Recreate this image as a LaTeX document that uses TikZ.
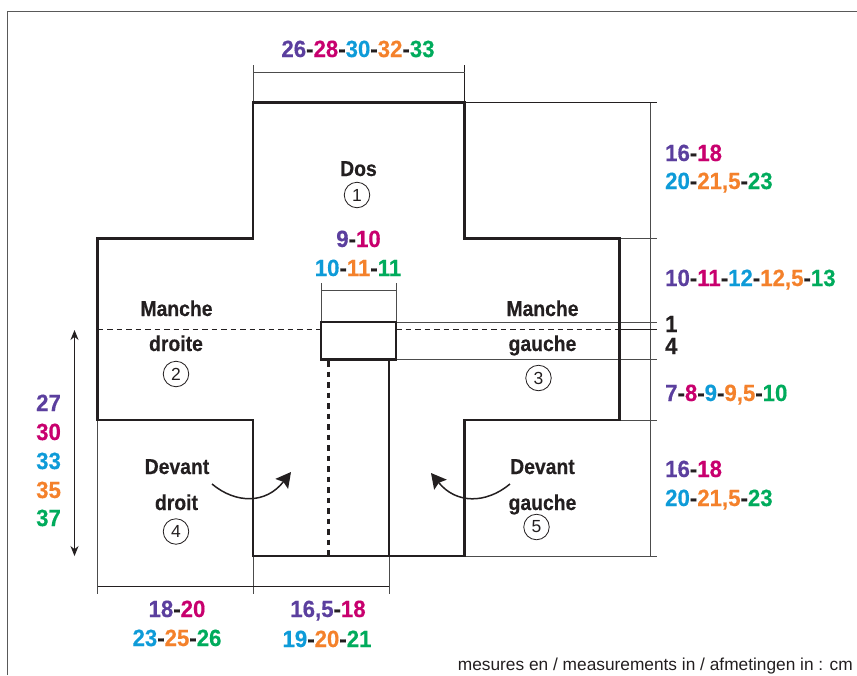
\documentclass[tikz,border=0pt]{standalone}
\usepackage{fontspec}
\setmainfont{Liberation Sans}
\newfontfamily\condbold[FakeStretch=0.945,FakeBold=0.4]{Liberation Sans Bold}
\newfontfamily\partbold[FakeStretch=0.9,FakeBold=0.4]{Liberation Sans Bold}
\usetikzlibrary{arrows.meta}
\definecolor{inkc}{HTML}{231F20}
\definecolor{purplec}{HTML}{5B3F9E}
\definecolor{magentac}{HTML}{C8006E}
\definecolor{bluec}{HTML}{0E9BD8}
\definecolor{orangec}{HTML}{F4812B}
\definecolor{greenc}{HTML}{00AB5C}
\newcommand{\cPu}[1]{\textcolor{purplec}{#1}}
\newcommand{\cMa}[1]{\textcolor{magentac}{#1}}
\newcommand{\cBl}[1]{\textcolor{bluec}{#1}}
\newcommand{\cOr}[1]{\textcolor{orangec}{#1}}
\newcommand{\cGr}[1]{\textcolor{greenc}{#1}}
\tikzset{
  x=1pt,y=-1pt,
  frameline/.style={draw=black!65,line width=1pt},
  outline/.style={draw=inkc,line width=2.7pt,line join=miter},
  thin line/.style={draw=inkc,line width=0.9pt},
  dimline/.style={draw=black!70,line width=0.9pt},
  sizelabel/.style={inner sep=0pt,font=\condbold\fontsize{23.5}{23.5}\selectfont,text=inkc},
  partlabel/.style={inner sep=0pt,font=\partbold\fontsize{21.5}{22}\selectfont,text=inkc},
  numcircle/.style={circle,draw=inkc,line width=0.8pt,minimum size=25.5pt,inner sep=0pt,font=\fontsize{17.5}{18}\selectfont,text=inkc},
  foldarrow/.style={draw=inkc,line width=1.5pt,-{Stealth[inset=2.5pt,length=15pt,width=16pt]}},
}
\begin{document}
\begin{tikzpicture}
\useasboundingbox (0,0) rectangle (857,675);
% frame
\draw[frameline] (7.5,675) -- (7.5,11.5) -- (857,11.5);
% dimension lines
\draw[dimline] (253,65) -- (253,102);
\draw[thin line] (464.5,65) -- (464.5,102);
\draw[dimline] (253,72) -- (464.5,72);
\draw[dimline] (321,283) -- (321,322) (396,283) -- (396,322);
\draw[dimline] (321,290.5) -- (396,290.5);
\draw[dimline] (650,102.5) -- (650,556);
\draw[thin line] (464.5,102.5) -- (657,102.5);
\draw[dimline] (464.5,238.5) -- (657,238.5);
\draw[dimline] (396,322) -- (657,322);
\draw[thin line] (619.5,329) -- (657,329);
\draw[dimline] (396,359.5) -- (657,359.5);
\draw[dimline] (619.5,420) -- (657,420);
\draw[dimline] (464.5,556) -- (657,556);
\draw[dimline] (97.5,420) -- (97.5,594);
\draw[dimline] (253,556) -- (253,594);
\draw[dimline] (389,556) -- (389,594);
\draw[thin line] (97.5,586.5) -- (389,586.5);
% dashed fold lines
\draw[inkc,line width=0.9pt,dash pattern=on 5.5pt off 4pt] (97.5,329) -- (321,329);
\draw[inkc,line width=0.9pt,dash pattern=on 5.5pt off 4pt] (396,329) -- (619.5,329);
\draw[inkc,line width=2.4pt,dash pattern=on 5.5pt off 5pt] (328.5,361) -- (328.5,556);
% outline
\draw[outline] (253,102.5) -- (464.5,102.5) -- (464.5,238.5) -- (619.5,238.5) -- (619.5,420) -- (464.5,420) -- (464.5,556) -- (253,556) -- (253,420) -- (97.5,420) -- (97.5,238.5) -- (253,238.5) -- cycle;
\draw[outline] (321,322) rectangle (396,359.5);
\draw[outline] (389,359.5) -- (389,556);
% length arrow
\coordinate (lenTop) at (74.5,330);
\coordinate (lenBot) at (74.5,556);
\draw[inkc,line width=0.9pt,{Stealth[length=10pt,width=8pt]}-{Stealth[length=10pt,width=8pt]}] (lenTop) -- (lenBot);
% curved arrows
\coordinate (foldLa) at (212,484);
\coordinate (foldLb) at (291,472);
\coordinate (foldRa) at (510,484);
\coordinate (foldRb) at (431,473);
\draw[foldarrow] (foldLa) .. controls (236,504) and (266,504) .. (foldLb);
\draw[foldarrow] (foldRa) .. controls (486,504) and (456,504) .. (foldRb);
% part labels
\node[partlabel,anchor=base] (dos) at (358.5,176) {Dos};
\node[partlabel,anchor=base] (mancheD) at (176.5,316) {Manche};
\node[partlabel,anchor=base] (droite) at (176,351) {droite};
\node[partlabel,anchor=base] (mancheG) at (542.5,316) {Manche};
\node[partlabel,anchor=base] (gaucheM) at (542.5,351) {gauche};
\node[partlabel,anchor=base] (devantD) at (177,474) {Devant};
\node[partlabel,anchor=base] (droit) at (176.5,510) {droit};
\node[partlabel,anchor=base] (devantG) at (542.5,474) {Devant};
\node[partlabel,anchor=base] (gaucheD) at (542.5,510) {gauche};
\node[numcircle] (c1) at (357,195) {1};
\node[numcircle] (c2) at (176,374) {2};
\node[numcircle] (c3) at (538.5,378) {3};
\node[numcircle] (c4) at (176,531.5) {4};
\node[numcircle] (c5) at (536.5,527) {5};
% size labels
\node[sizelabel,anchor=base] (sTop) at (358,57) {\cPu{26}-\cMa{28}-\cBl{30}-\cOr{32}-\cGr{33}};
\node[sizelabel,anchor=base] (sNeckA) at (358.5,247) {\cPu{9}-\cMa{10}};
\node[sizelabel,anchor=base] (sNeckB) at (358,276) {\cBl{10}-\cOr{11}-\cGr{11}};
\node[sizelabel,anchor=base west] (sRa) at (665,161) {\cPu{16}-\cMa{18}};
\node[sizelabel,anchor=base west] (sRb) at (665,189) {\cBl{20}-\cOr{21,5}-\cGr{23}};
\node[sizelabel,anchor=base west] (sRc) at (665,286) {\cPu{10}-\cMa{11}-\cBl{12}-\cOr{12,5}-\cGr{13}};
\node[sizelabel,anchor=base west] (sOne) at (665,332) {1};
\node[sizelabel,anchor=base west] (sFour) at (665,354) {4};
\node[sizelabel,anchor=base west] (sRd) at (665,401) {\cPu{7}-\cMa{8}-\cBl{9}-\cOr{9,5}-\cGr{10}};
\node[sizelabel,anchor=base west] (sRe) at (665,477) {\cPu{16}-\cMa{18}};
\node[sizelabel,anchor=base west] (sRf) at (665,506) {\cBl{20}-\cOr{21,5}-\cGr{23}};
\node[sizelabel,anchor=base west] (sLa) at (36,411) {\cPu{27}};
\node[sizelabel,anchor=base west] (sLb) at (36,440) {\cMa{30}};
\node[sizelabel,anchor=base west] (sLc) at (36,469) {\cBl{33}};
\node[sizelabel,anchor=base west] (sLd) at (36,498) {\cOr{35}};
\node[sizelabel,anchor=base west] (sLe) at (36,526) {\cGr{37}};
\node[sizelabel,anchor=base] (sBa) at (177,617) {\cPu{18}-\cMa{20}};
\node[sizelabel,anchor=base] (sBb) at (177,646) {\cBl{23}-\cOr{25}-\cGr{26}};
\node[sizelabel,anchor=base] (sBc) at (328,617) {\cPu{16,5}-\cMa{18}};
\node[sizelabel,anchor=base] (sBd) at (327,647) {\cBl{19}-\cOr{20}-\cGr{21}};
\node[inner sep=0pt,anchor=base east,text=inkc,font=\fontsize{17.3}{18}\selectfont] (units) at (853,670.5) {mesures en / measurements in / afmetingen in : cm};
\end{tikzpicture}
\end{document}
